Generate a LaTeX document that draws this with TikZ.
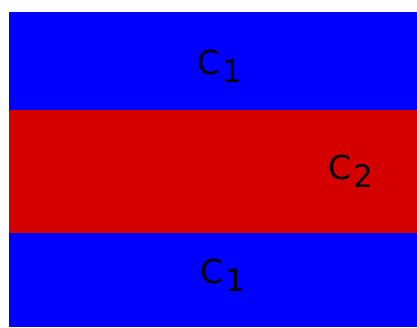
\documentclass[tikz,border=0pt]{standalone}
\usepackage{fontspec}
\setmainfont{DejaVu Sans}
\definecolor{bandblue}{RGB}{0,0,255}
\definecolor{bandred}{RGB}{212,0,0}
\newcommand{\cname}[1]{C\kern2pt\raisebox{-8pt}{\fontsize{31}{33}\selectfont #1}}

\begin{document}
\begin{tikzpicture}[x=1pt, y=-1pt]

\tikzset{label/.style = {anchor=base west, inner sep=0pt,
                         font=\fontsize{33}{40}\selectfont}}

\useasboundingbox (0,0) rectangle (417,327);

% bands
\fill[bandblue] (9,12)  rectangle (417,110);
\fill[bandred]  (9,110) rectangle (417,233);
\fill[bandblue] (9,233) rectangle (417,327);

% labels
\node[label] (top) at (197,74)  {\cname{1}};
\node[label] (mid) at (328,179) {\cname{2}};
\node[label] (bot) at (200,283) {\cname{1}};

\end{tikzpicture}
\end{document}
